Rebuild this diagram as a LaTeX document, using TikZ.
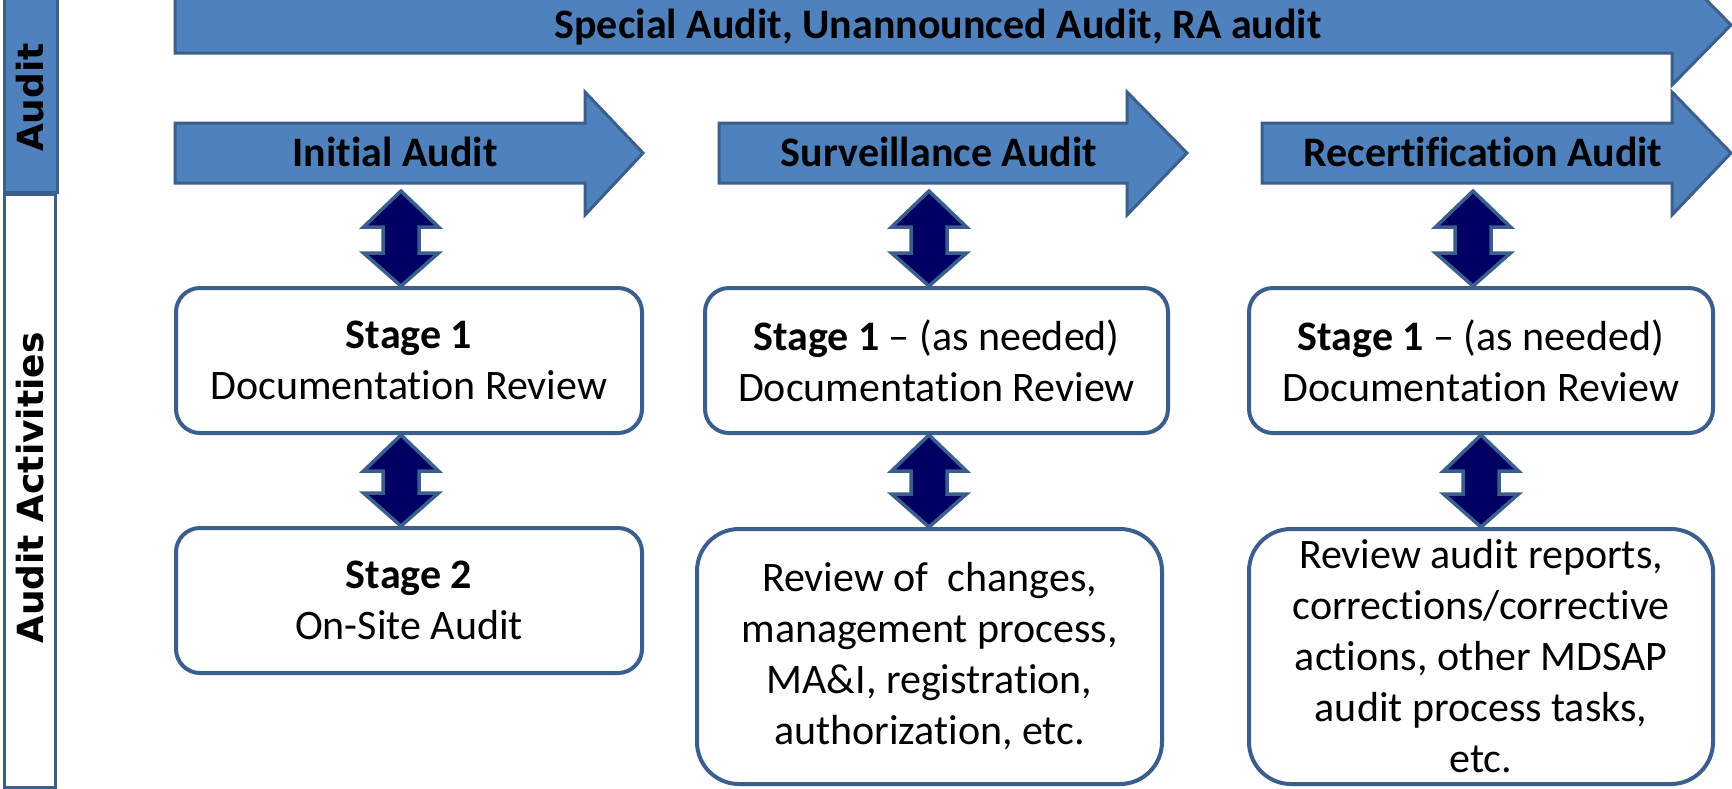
\documentclass[tikz,border=0pt]{standalone}
\usepackage{fontspec}
\setmainfont{Carlito}[Ligatures={NoCommon,NoRare,NoContextual}]
\newfontfamily\labfont{DejaVu Sans}
\usetikzlibrary{calc}
\definecolor{afill}{HTML}{4F81BD}
\definecolor{aline}{HTML}{3A5F8D}
\definecolor{navyfill}{HTML}{000062}
\newcommand\DArrow[3]{%
  \draw[dblarrow] let \p1=(#2), \p2=(#3) in
   (#1pt,\y1) -- (#1pt+37.5pt,\y1-36pt) -- (#1pt+18pt,\y1-36pt) -- (#1pt+18pt,\y2+33pt)
   -- (#1pt+37.5pt,\y2+33pt) -- (#1pt,\y2) -- (#1pt-37.5pt,\y2+33pt) -- (#1pt-18pt,\y2+33pt)
   -- (#1pt-18pt,\y1-36pt) -- (#1pt-37.5pt,\y1-36pt) -- cycle;}
\newcommand\BArrow[3]{% #1 left, #2 head back, #3 tip
  \draw[blockarrow] (#1,123) -- (#2,123) -- (#2,92) -- (#3,153) -- (#2,215) -- (#2,183) -- (#1,183) -- cycle;}
\begin{document}
\begin{tikzpicture}[x=1pt,y=-1pt,
  blockarrow/.style={fill=afill,draw=aline,line width=3pt,line join=miter},
  box/.style={draw=aline,line width=4pt,fill=white,inner sep=0pt,align=center,
    font=\fontsize{42}{51}\selectfont},
  box1/.style={box,rounded corners=24pt,minimum height=145},
  box2/.style={box,rounded corners=42pt,minimum height=255},
  dblarrow/.style={fill=navyfill,draw=aline,line width=3.5pt,line join=miter},
  btxt/.style={font=\fontsize{42}{51}\selectfont\bfseries,inner sep=0pt},
  side/.style={font=\labfont\fontsize{36}{42}\selectfont\bfseries,rotate=90,inner sep=0pt}]
\useasboundingbox (0,0) rectangle (1732,788);
\clip (0,0) rectangle (1732,788);
% left column
\node[draw=aline,fill=afill,line width=3pt,minimum width=53,minimum height=196,anchor=north west,inner sep=0pt] (auditbox) at (3,-5) {};
\node[draw=aline,fill=white,line width=3pt,minimum width=51,minimum height=593,anchor=north west,inner sep=0pt] (actbox) at (3,193) {};
\node[side] (audit) at (30,97.5) {Audit};
\node[side] (activities) at (30,488) {Audit Activities};
% top arrow
\draw[blockarrow] (175,-3) -- (1672,-3) -- (1672,-35) -- (1731,25) -- (1672,85) -- (1672,53) -- (175,53) -- cycle;
\node[btxt,anchor=base] (special) at (938,38) {Special Audit, Unannounced Audit, RA audit};
% stage arrows
\BArrow{175}{585}{643}
\BArrow{719}{1127}{1187}
\BArrow{1262}{1672}{1731}
\node[btxt,anchor=base] (ia) at (395,166) {Initial Audit};
\node[btxt,anchor=base] (sa) at (939,166) {Surveillance Audit};
\node[btxt,anchor=base] (ra) at (1483,166) {Recertification Audit};
\coordinate (iab) at (401,191);
\coordinate (sab) at (929,191);
\coordinate (rab) at (1473,191);
% boxes
\node[box1,minimum width=466] (s1a) at (409,360.5) {\textbf{Stage 1}\\Documentation Review};
\node[box1,minimum width=466] (s2a) at (409,600.5) {\textbf{Stage 2}\\On-Site Audit};
\node[box1,minimum width=463] (s1b) at (936.5,360.5) {\textbf{Stage 1} -- (as needed)\\Documentation Review};
\node[box2,minimum width=465] (s2b) at (929.5,656.5) {Review of\ \ changes,\\management process,\\MA\&I, registration,\\authorization, etc.};
\node[box1,minimum width=464] (s1c) at (1481,360.5) {\textbf{Stage 1} -- (as needed)\\Documentation Review};
\node[box2,minimum width=464] (s2c) at (1481,656.5) {Review audit reports,\\corrections/corrective\\actions, other MDSAP\\audit process tasks,\\etc.};
% double arrows
\DArrow{401}{iab}{s1a.north}
\DArrow{401}{s1a.south}{s2a.north}
\DArrow{929}{sab}{s1b.north}
\DArrow{929}{s1b.south}{s2b.north}
\DArrow{1473}{rab}{s1c.north}
\DArrow{1481}{s1c.south}{s2c.north}
\end{tikzpicture}
\end{document}
